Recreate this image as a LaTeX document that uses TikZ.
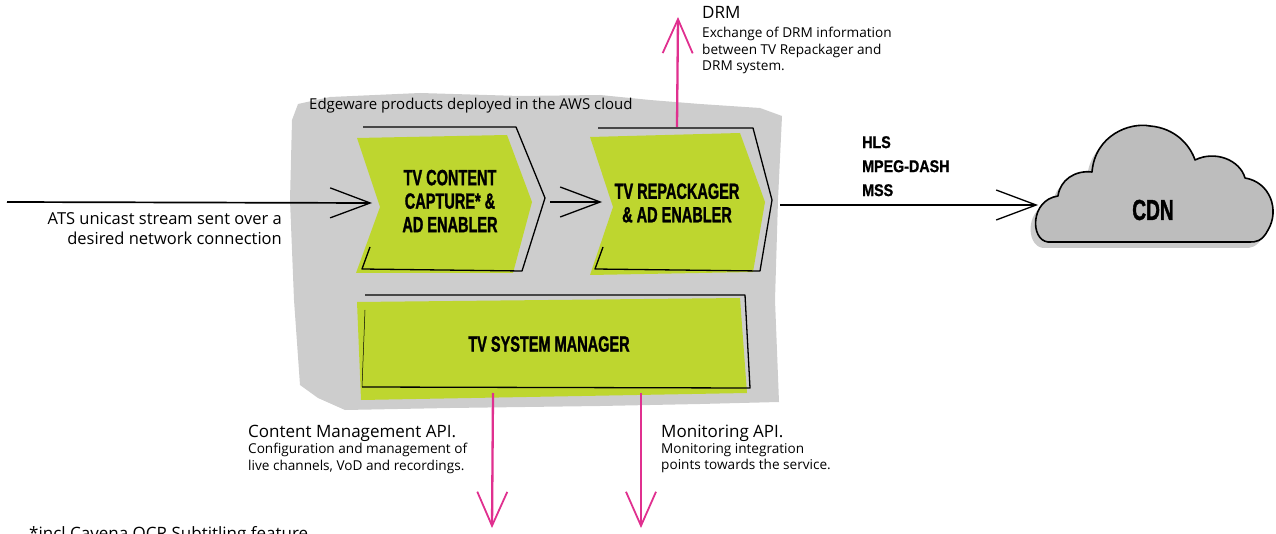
\documentclass[tikz,border=0pt]{standalone}
\usepackage{fontspec}
\setmainfont{Open Sans}
\newfontfamily\chevfont[FakeStretch=0.66,FakeBold=1.2]{Liberation Sans Bold}
\newfontfamily\protofont[FakeStretch=0.84,FakeBold=1]{Liberation Sans Bold}
\usetikzlibrary{arrows.meta,positioning}

\definecolor{limegreen}{HTML}{BED62F}
\definecolor{drmpink}{HTML}{E0308F}
\definecolor{brushgray}{HTML}{CDCDCD}
\definecolor{cloudgray}{HTML}{BDBDBD}
\definecolor{shadowgray}{HTML}{CBCBCB}

\tikzset{
    outline/.style={black, line width=1.3pt, line join=round},
    flow/.style={black, line width=1.7pt, -{Straight Barb[length=40pt,width=30pt,line width=1.3pt]}},
    api/.style={drmpink, line width=2.3pt, -{Straight Barb[length=34pt,width=30pt,line width=1.8pt]}},
    boxtext/.style={font=\chevfont\fontsize{22}{23.5}\selectfont, align=center, inner sep=0pt},
    title/.style={font=\fontsize{17}{18}\selectfont, anchor=base west, inner sep=0pt},
    note/.style={font=\fontsize{13.6}{16.5}\selectfont, align=left, anchor=north west, inner sep=0pt},
}

\begin{document}
\begin{tikzpicture}[x=1pt, y=-1pt]
    \useasboundingbox (0,0) rectangle (1276,534);

    % brushed gray area of the AWS cloud
    \fill[brushgray] (292,120) -- (298,104) -- (330,97) -- (420,93) -- (520,96) -- (600,95)
        -- (650,100) -- (700,104) -- (760,108) -- (782,116) -- (778,200) -- (775,300)
        -- (779,402) -- (700,404) -- (600,406) -- (450,408) -- (345,410) -- (318,398)
        -- (300,385) -- (294,300) -- (290,200) -- cycle;

    % green blocks
    \fill[limegreen] (357,138) -- (507,135) -- (532,202) -- (513,273) -- (356,273) -- (380,207) -- cycle;
    \fill[limegreen] (590,137) -- (740,133) -- (765,202) -- (753,272) -- (590,275) -- (613,207) -- cycle;
    \fill[limegreen] (357,302) -- (740,298) -- (747,393) -- (361,400) -- cycle;

    % sketchy outlines
    \draw[outline] (370,247) -- (362,269) -- (522,271) -- (545,198) -- (516,127) -- (363,127);
    \draw[outline] (603,247) -- (595,269) -- (760,271) -- (772,200) -- (753,128) -- (598,128);
    \draw[outline] (365,295) -- (745,295) -- (750,388) -- (362,387);
    \draw[black, line width=0.5pt] (362,387) -- (365,310);

    % CDN cloud
    \begin{scope}[shift={(-5,6)}]
        \fill[shadowgray] (1048,242) .. controls (1030,240) and (1030,200) .. (1058,196)
            .. controls (1060,180) and (1075,170) .. (1092,172)
            .. controls (1095,135) and (1130,122) .. (1150,126)
            .. controls (1175,128) and (1190,145) .. (1195,160)
            .. controls (1215,150) and (1240,160) .. (1245,178)
            .. controls (1270,182) and (1280,210) .. (1268,230)
            .. controls (1262,242) and (1255,242) .. (1250,242) -- cycle;
    \end{scope}
    \draw[outline, line width=1.6pt, fill=cloudgray] (1048,242) .. controls (1030,240) and (1030,200) .. (1058,196)
        .. controls (1060,180) and (1075,170) .. (1092,172)
        .. controls (1095,135) and (1130,122) .. (1150,126)
        .. controls (1175,128) and (1190,145) .. (1195,160)
        .. controls (1215,150) and (1240,160) .. (1245,178)
        .. controls (1270,182) and (1280,210) .. (1268,230)
        .. controls (1262,242) and (1255,242) .. (1250,242) -- cycle;

    % block names
    \node[boxtext] (capture) at (450,201) {TV CONTENT\\CAPTURE* \&\\AD ENABLER};
    \node[boxtext] (repack) at (677,203) {TV REPACKAGER\\\& AD ENABLER};
    \node[boxtext] (manager) at (549,344) {TV SYSTEM MANAGER};
    \node[font=\chevfont\fontsize{29}{30}\selectfont, inner sep=0pt] (cdn) at (1153,210) {CDN};
    \node[font=\protofont\fontsize{17}{24}\selectfont, align=left, anchor=north west, inner sep=0pt]
        (formats) at (862,136) {HLS\\MPEG-DASH\\MSS};

    % texts
    \node[font=\fontsize{15}{17}\selectfont, anchor=base west, inner sep=0pt] (aws) at (309,110)
        {Edgeware products deployed in the AWS cloud};
    \node[font=\fontsize{16.5}{20}\selectfont, align=right, anchor=north east, inner sep=0pt] (ats) at (282,212)
        {ATS unicast stream sent over a\\desired network connection};
    \node[title] (drm) at (702,19) {DRM};
    \node[note] (drmnote) at (702,27) {Exchange of DRM information\\between TV Repackager and\\DRM system.};
    \node[title] (cmapi) at (248,437) {Content Management API.};
    \node[note] (cmnote) at (248,443) {Configuration and management of\\live channels, VoD and recordings.};
    \node[title] (monapi) at (661,437) {Monitoring API.};
    \node[note] (monnote) at (661,443) {Monitoring integration\\points towards the service.};
    \node[font=\fontsize{17}{19}\selectfont, anchor=north west, inner sep=0pt] (footnote) at (29,526)
        {*incl Cavena OCR Subtitling feature};

    % connector ends
    \coordinate (src) at (7,202);
    \coordinate (capin) at (372,203);
    \coordinate (capout) at (550,202);
    \coordinate (repin) at (602,202);
    \coordinate (repout) at (780,205);
    \coordinate (cloudin) at (1038,205);
    \coordinate (reptop) at (677,127);
    \coordinate (drmend) at (678,17);
    \coordinate (mgrleft) at (493,393);
    \coordinate (cmend) at (492,528);
    \coordinate (mgrright) at (641,393);
    \coordinate (monend) at (641,528);

    \draw[flow] (src) -- (capin);
    \draw[flow] (capout) -- (repin);
    \draw[flow] (repout) -- (cloudin);
    \draw[api] (reptop) -- (drmend);
    \draw[api] (mgrleft) -- (cmend);
    \draw[api] (mgrright) -- (monend);
\end{tikzpicture}
\end{document}
